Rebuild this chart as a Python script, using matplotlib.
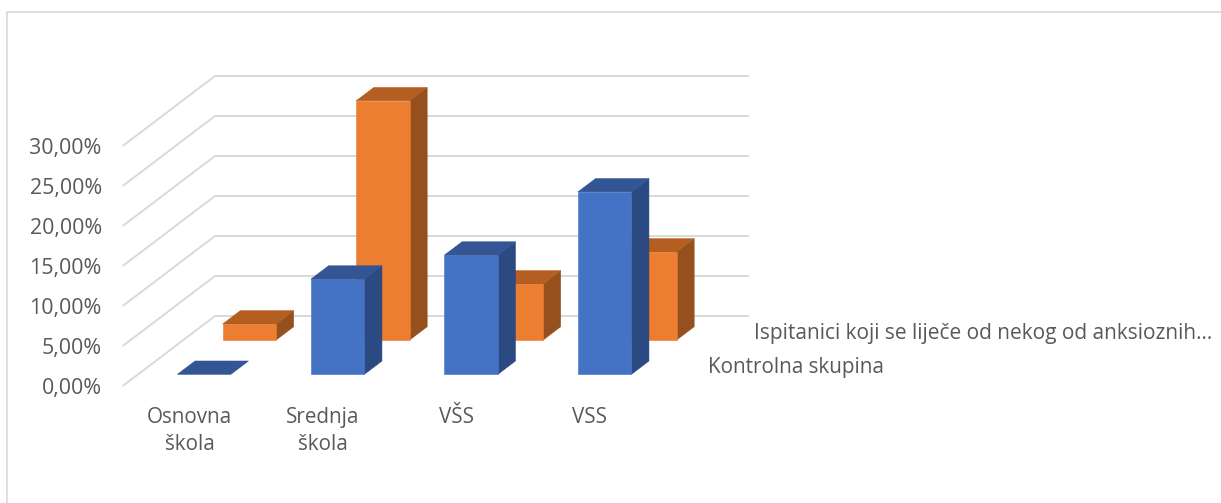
import matplotlib
matplotlib.use('Agg')
import matplotlib.pyplot as plt
from matplotlib.lines import Line2D
from matplotlib.patches import Polygon

categories = ['Osnovna\nškola', 'Srednja\nškola', 'VŠS', 'VSS']
kontrolna = [0.0, 11.9, 14.9, 22.8]
ispitanici = [2.0, 29.9, 7.0, 11.0]
yticks = [0, 5, 10, 15, 20, 25, 30]
series_names = ['Kontrolna skupina', 'Ispitanici koji se liječe od nekog od anksioznih…']

W, H = 1221, 503
plt.rcParams['font.family'] = ['Open Sans', 'DejaVu Sans']

# floor depth in data units (92 px right, 70 px up)
DX = 92.3 / 133.5
DY = 70 / 8
XMAX = (749 - 122.7) / 133.5
BAR_W = 0.4
GREY = '#d9d9d9'
TEXT = '#595959'


def draw_bar(ax, x, val, d0, d1, front, top, side):
    x0 = x + DX * d0
    x1 = x0 + BAR_W
    y0 = DY * d0
    ox = DX * (d1 - d0)
    oy = DY * (d1 - d0)
    if val > 0:
        ax.add_patch(Polygon([(x1, y0), (x1 + ox, y0 + oy), (x1 + ox, y0 + oy + val), (x1, y0 + val)],
                             fc=side, ec=side, lw=0.4))
        ax.add_patch(Polygon([(x0, y0), (x1, y0), (x1, y0 + val), (x0, y0 + val)],
                             fc=front, ec=front, lw=0.4))
    ax.add_patch(Polygon([(x0, y0 + val), (x1, y0 + val), (x1 + ox, y0 + oy + val), (x0 + ox, y0 + oy + val)],
                         fc=top, ec=top, lw=0.4))


fig = plt.figure(figsize=(W / 100, H / 100), dpi=100)
ax = fig.add_axes([122.7 / W, (H - 386) / H, (749 - 122.7) / W, (386 - 76.7) / H])
ax.set_xlim(0, XMAX)
ax.set_ylim(0, 38.66)
for s in ax.spines.values():
    s.set_visible(False)

for v in yticks:
    ax.plot([0, DX, XMAX], [v, v + DY, v + DY], color=GREY, lw=1.4, solid_capstyle='butt', zorder=1, clip_on=False)

for i, v in enumerate(ispitanici):
    draw_bar(ax, i + 0.295, v, 0.657, 0.847, '#ed7d31', '#b45e21', '#95501d')
for i, v in enumerate(kontrolna):
    draw_bar(ax, i + 0.295, v, 0.167, 0.357, '#4472c4', '#335593', '#2a4a81')

ax.set_yticks(yticks)
ax.set_yticklabels([('%.2f%%' % v).replace('.', ',') for v in yticks], fontsize=15.4, color=TEXT)
ax.set_xticks([i + 0.5 for i in range(len(categories))])
ax.set_xticklabels(categories, fontsize=14.9, color=TEXT, linespacing=1.36)
ax.tick_params(axis='y', length=0, pad=15)
ax.tick_params(axis='x', length=0, pad=15)

fig.text(708 / W, 1 - 368 / H, series_names[0], fontsize=14.9, color=TEXT, va='center')
fig.text(754 / W, 1 - 333 / H, series_names[1], fontsize=15.0, color=TEXT, va='center')

# chart frame, only top and left are inside the crop
fig.add_artist(Line2D([7.5 / W, 7.5 / W, 1], [0, 1 - 12 / H, 1 - 12 / H], color=GREY, lw=1.2))

fig.savefig('out.png', dpi=100)
